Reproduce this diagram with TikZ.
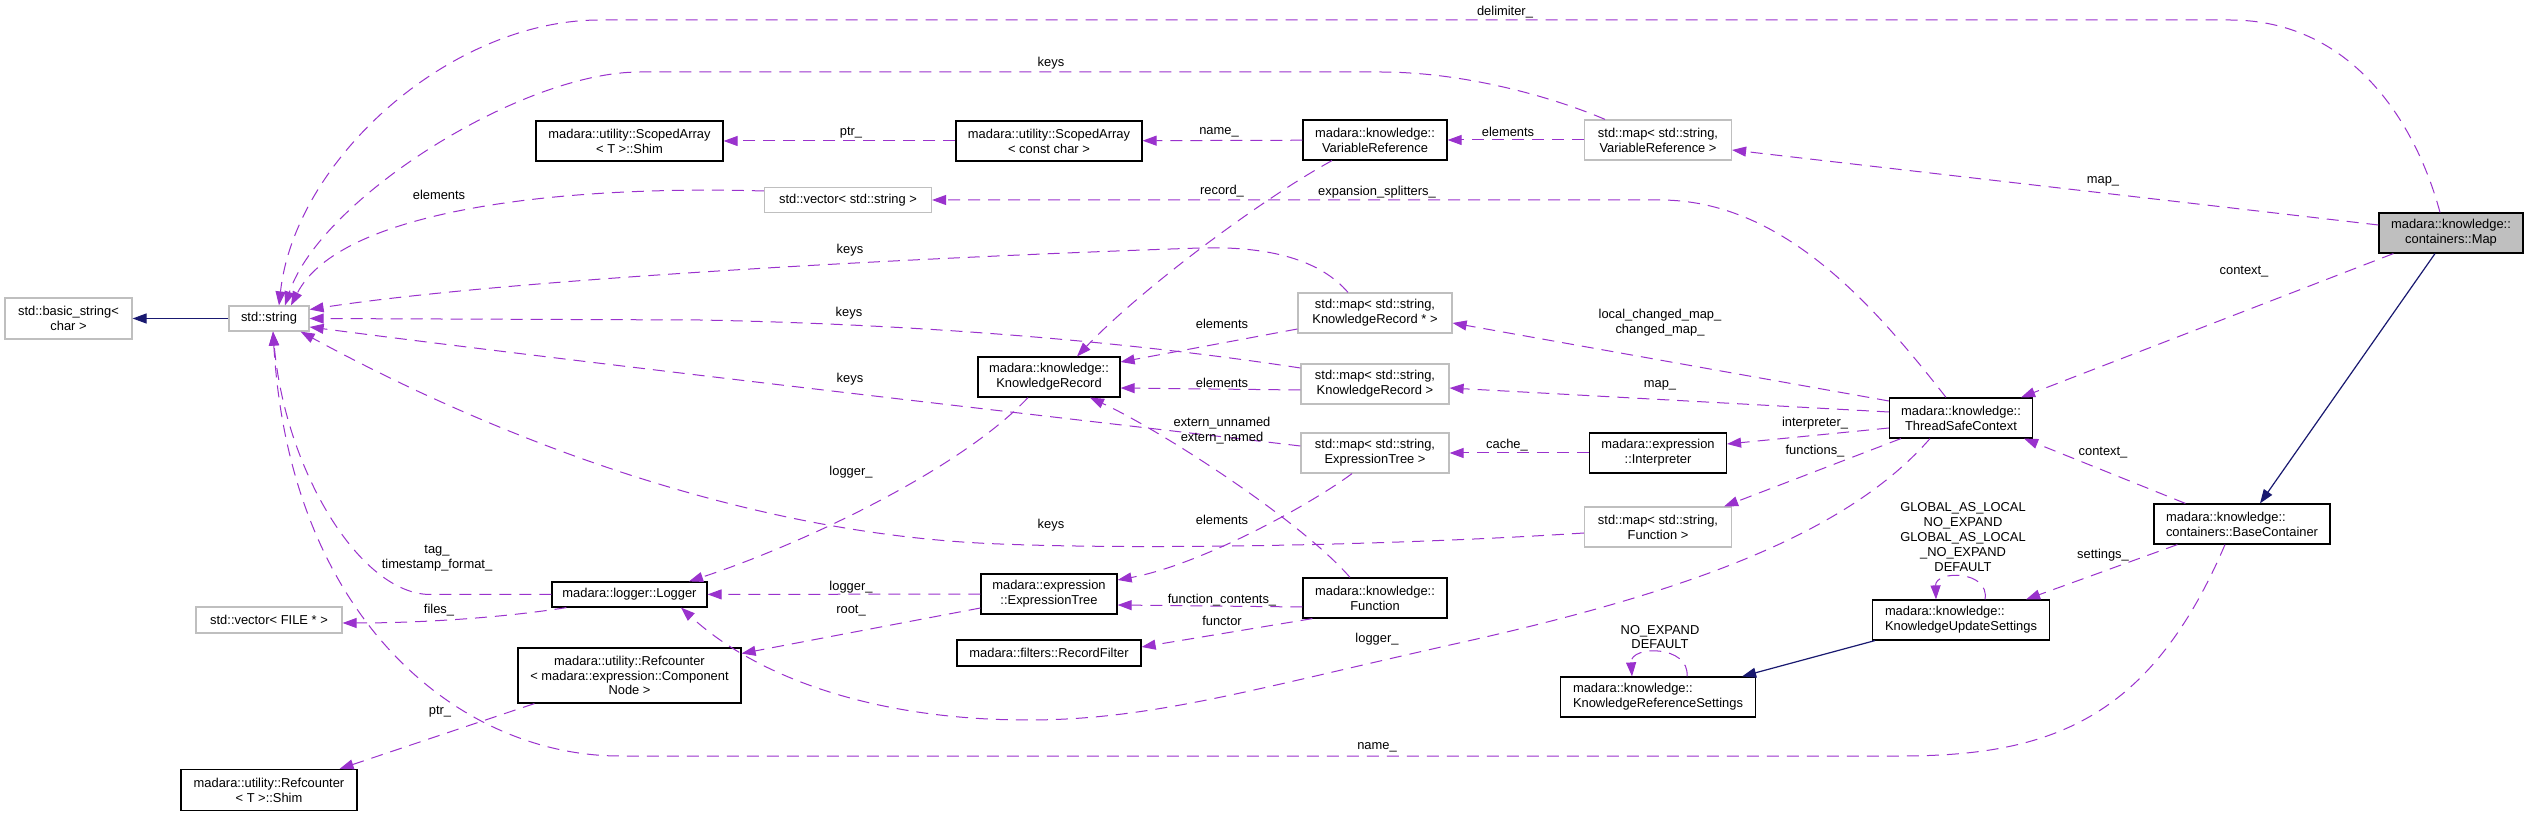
\documentclass[tikz,border=0pt]{standalone}
\usepackage{fontspec}
\setmainfont{Liberation Sans}
\usepackage{tikz}
\usetikzlibrary{arrows.meta,positioning,shapes,calc}
\definecolor{depcol}{RGB}{154,50,205}
\definecolor{inhblue}{RGB}{25,25,112}
\definecolor{extgray}{RGB}{191,191,191}
\definecolor{maingray}{RGB}{191,191,191}
\newcommand{\nodefont}{\fontsize{6.45pt}{7.4pt}\selectfont}

\begin{document}
\begin{tikzpicture}[x=0.5pt, y=-0.5pt,
    cls/.style={draw=black, line width=0.6pt, fill=white, inner sep=1pt, align=center, font=\nodefont},
    ext/.style={cls, draw=extgray},
    lbl/.style={font=\nodefont, align=center, inner sep=0pt},
    dep/.style={draw=depcol, line width=0.5pt, dash pattern=on 6pt off 4pt, -{Triangle[length=7pt,width=5pt]}},
    inh/.style={draw=inhblue, line width=0.6pt, -{Triangle[length=7pt,width=5pt]}}]
        \fill[white] (0,0) rectangle (2528,817);
        \useasboundingbox (0,0) rectangle (2528,817);

        \node[ext, minimum width=63.5pt, minimum height=20.5pt] (basicStr) at (68.5,318.5) {std::basic\_string<\\char >};
        \node[ext, minimum width=40pt, minimum height=12.5pt] (stdStr) at (269,318.5) {std::string};
        \node[cls, minimum width=93.5pt, minimum height=20pt] (shimSA) at (629.5,141) {madara::utility::ScopedArray\\< T >::Shim};
        \node[cls, minimum width=93pt, minimum height=20pt] (scopedArr) at (1049,141) {madara::utility::ScopedArray\\< const char >};
        \node[cls, minimum width=72pt, minimum height=20pt] (varRef) at (1375,140) {madara::knowledge::\\VariableReference};
        \node[ext, minimum width=73.5pt, minimum height=20pt] (mapVarRef) at (1658,140) {std::map< std::string,\\VariableReference >};
        \node[cls, fill=maingray, minimum width=72pt, minimum height=20pt] (kMap) at (2451,233) {madara::knowledge::\\containers::Map};
        \node[ext, minimum width=83.5pt, minimum height=12.5pt] (vecStr) at (848,200) {std::vector< std::string >};
        \node[cls, minimum width=71pt, minimum height=20pt] (kRecord) at (1049,377) {madara::knowledge::\\KnowledgeRecord};
        \node[ext, minimum width=77pt, minimum height=20pt] (mapRecPtr) at (1375,313) {std::map< std::string,\\KnowledgeRecord * >};
        \node[ext, minimum width=74pt, minimum height=20pt] (mapRec) at (1375,384) {std::map< std::string,\\KnowledgeRecord >};
        \node[cls, minimum width=71.5pt, minimum height=20pt] (context) at (1961,418) {madara::knowledge::\\ThreadSafeContext};
        \node[ext, minimum width=74pt, minimum height=20pt] (mapTree) at (1375,453) {std::map< std::string,\\ExpressionTree >};
        \node[cls, minimum width=68.5pt, minimum height=20pt] (interp) at (1658,453) {madara::expression\\::Interpreter};
        \node[ext, minimum width=73.5pt, minimum height=20pt] (mapFunc) at (1658,527) {std::map< std::string,\\Function >};
        \node[cls, minimum width=72pt, minimum height=20pt] (func) at (1375,598) {madara::knowledge::\\Function};
        \node[cls, minimum width=68pt, minimum height=20pt] (exprTree) at (1049,594) {madara::expression\\::ExpressionTree};
        \node[cls, minimum width=92pt, minimum height=13pt] (recFilter) at (1049,653) {madara::filters::RecordFilter};
        \node[cls, minimum width=77.5pt, minimum height=12.5pt] (logger) at (629.5,594.5) {madara::logger::Logger};
        \node[ext, minimum width=73pt, minimum height=13pt] (vecFile) at (269,620) {std::vector< FILE * >};
        \node[cls, minimum width=111.5pt, minimum height=27.5pt] (refNode) at (629.5,675.5) {madara::utility::Refcounter\\< madara::expression::Component\\Node >};
        \node[cls, minimum width=88pt, minimum height=20.5pt] (refShim) at (269,790) {madara::utility::Refcounter\\< T >::Shim};
        \node[cls, align=left, minimum width=97.5pt, minimum height=20pt] (refSettings) at (1658,697) {madara::knowledge::\\KnowledgeReferenceSettings};
        \node[cls, align=left, minimum width=88.5pt, minimum height=20pt] (updSettings) at (1961,620) {madara::knowledge::\\KnowledgeUpdateSettings};
        \node[cls, align=left, minimum width=88pt, minimum height=20pt] (baseCont) at (2242,524) {madara::knowledge::\\containers::BaseContainer};

        \draw[inh] (stdStr) -- (basicStr);
        \draw[inh] ($(kMap.south)+(-16,0)$) -- ($(baseCont.north)+(18,0)$);
        \draw[inh] ($(updSettings.south west)+(3,0)$) -- ($(refSettings.north east)+(-14,0)$);

        \draw[dep] ($(kMap.north)+(-11,0)$) .. controls (2415,120) and (2350,20) .. (2230,20) -- (600,20) .. controls (450,20) and (295,160) .. ($(stdStr.north)+(10,0)$);
        \draw[dep] ($(mapVarRef.north)+(-53,0)$) .. controls (1560,100) and (1470,72) .. (1380,72) -- (640,72) .. controls (520,72) and (320,200) .. ($(stdStr.north)+(16,0)$);
        \draw[dep] (scopedArr) -- (shimSA);
        \draw[dep] (varRef) -- (scopedArr);
        \draw[dep] (mapVarRef) -- (varRef);
        \draw[dep] ($(kMap.west)+(0,-8)$) -- ($(mapVarRef.east)+(0,10)$);
        \draw[dep] ($(vecStr.west)+(0,-9)$) .. controls (560,185) and (340,210) .. ($(stdStr.north)+(22,0)$);
        \draw[dep] ($(context.north)+(-15,0)$) .. controls (1870,300) and (1780,200) .. (1660,200) -- (vecStr.east);
        \draw[dep] ($(varRef.south)+(-43,0)$) .. controls (1260,200) and (1140,290) .. ($(kRecord.north)+(28,0)$);
        \draw[dep] ($(mapRecPtr.north)+(-27,0)$) .. controls (1320,260) and (1270,246) .. (1200,248) .. controls (900,258) and (500,280) .. ($(stdStr.east)+(0,-9)$);
        \draw[dep] ($(mapRecPtr.west)+(0,16)$) -- ($(kRecord.east)+(0,-15)$);
        \draw[dep] ($(mapRec.west)+(0,-16)$) .. controls (1150,345) and (950,325) .. (700,320) -- (stdStr.east);
        \draw[dep] ($(mapRec.west)+(0,6)$) -- ($(kRecord.east)+(0,11)$);
        \draw[dep] ($(context.west)+(0,-17)$) -- ($(mapRecPtr.east)+(0,10)$);
        \draw[dep] ($(context.west)+(0,-6)$) -- ($(mapRec.east)+(0,4)$);
        \draw[dep] ($(mapTree.west)+(0,-7)$) .. controls (1150,428) and (600,365) .. ($(stdStr.east)+(0,8.5)$);
        \draw[dep] ($(func.north)+(-25,0)$) .. controls (1300,520) and (1160,430) .. ($(kRecord.south)+(41,0)$);
        \draw[dep] ($(mapTree.south)+(-23,0)$) .. controls (1310,505) and (1200,565) .. ($(exprTree.east)+(0,-14)$);
        \draw[dep] ($(context.west)+(0,10)$) -- ($(interp.east)+(0,-9)$);
        \draw[dep] (interp) -- (mapTree);
        \draw[dep] ($(context.south west)+(12,0)$) -- ($(mapFunc.north east)+(-8,0)$);
        \draw[dep] ($(mapFunc.west)+(0,6)$) .. controls (1400,545) and (1150,550) .. (1000,544) .. controls (750,535) and (500,440) .. ($(stdStr.south east)+(-9,0)$);
        \draw[dep] ($(kRecord.south)+(-21,0)$) .. controls (960,470) and (800,545) .. ($(logger.north)+(59.5,0)$);
        \draw[dep] (exprTree) -- (logger);
        \draw[dep] ($(exprTree.west)+(0,14)$) -- ($(refNode.east)+(0,-22)$);
        \draw[dep] ($(func.west)+(0,9)$) -- ($(exprTree.east)+(0,11)$);
        \draw[dep] ($(func.south west)+(10,0)$) -- ($(recFilter.east)+(0,-6)$);
        \draw[dep] ($(context.south)+(-31,0)$) .. controls (1850,530) and (1700,590) .. (1450,645) .. controls (1250,690) and (1150,720) .. (1028,720) .. controls (880,720) and (760,680) .. ($(logger.south)+(51.5,0)$);
        \draw[dep] (logger.west) -- (430,594.5) .. controls (360,594) and (285,470) .. ($(stdStr.south)+(4,0)$);
        \draw[dep] ($(logger.south west)+(15,0)$) .. controls (500,618) and (420,623) .. ($(vecFile.east)+(0,3)$);
        \draw[dep] ($(refNode.south west)+(17,0)$) -- ($(refShim.north east)+(-18,0)$);
        \draw[dep] ($(baseCont.south)+(-17,0)$) .. controls (2150,720) and (2050,756) .. (1900,756) -- (620,756) .. controls (460,756) and (290,620) .. ($(stdStr.south)+(4,0)$);
        \draw[dep] ($(baseCont.north west)+(32,0)$) -- ($(context.south east)+(-9,0)$);
        \draw[dep] ($(kMap.south west)+(15,0)$) -- ($(context.north east)+(-12,0)$);
        \draw[dep] ($(baseCont.south west)+(24,0)$) -- ($(updSettings.north east)+(-24,0)$);
        \draw[dep] ($(updSettings.north)+(24,0)$) .. controls (1990,570) and (1935,570) .. ($(updSettings.north)+(-25,0)$);
        \draw[dep] ($(refSettings.north)+(29,0)$) .. controls (1690,645) and (1630,645) .. ($(refSettings.north)+(-26,0)$);

        \node[lbl] (lDelim) at (1505,12) {delimiter\_};
        \node[lbl] (lKeysA) at (1051,63) {keys};
        \node[lbl] (lPtrA) at (851,133) {ptr\_};
        \node[lbl] (lNameA) at (1219,132) {name\_};
        \node[lbl] (lElemA) at (1508,132) {elements};
        \node[lbl] (lMapA) at (2103,181) {map\_};
        \node[lbl] (lElemB) at (439,195) {elements};
        \node[lbl] (lSplit) at (1377,192) {expansion\_splitters\_};
        \node[lbl] (lRecord) at (1222,191) {record\_};
        \node[lbl] (lKeysB) at (850,250) {keys};
        \node[lbl] (lElemC) at (1222,324) {elements};
        \node[lbl] (lKeysC) at (849,313) {keys};
        \node[lbl] (lElemD) at (1222,383) {elements};
        \node[lbl] (lChanged) at (1660,323) {local\_changed\_map\_\\changed\_map\_};
        \node[lbl] (lMapB) at (1660,385) {map\_};
        \node[lbl] (lKeysD) at (850,379) {keys};
        \node[lbl] (lExtern) at (1222,431) {extern\_unnamed\\extern\_named};
        \node[lbl] (lElemE) at (1222,520) {elements};
        \node[lbl] (lInterp) at (1815,423) {interpreter\_};
        \node[lbl] (lCache) at (1507,445) {cache\_};
        \node[lbl] (lFuncs) at (1815,451) {functions\_};
        \node[lbl] (lKeysE) at (1051,525) {keys};
        \node[lbl] (lLogA) at (851,472) {logger\_};
        \node[lbl] (lLogB) at (851,587) {logger\_};
        \node[lbl] (lRoot) at (851,611) {root\_};
        \node[lbl] (lContents) at (1222,600) {function\_contents\_};
        \node[lbl] (lFunctor) at (1222,621) {functor};
        \node[lbl] (lLogC) at (1377,639) {logger\_};
        \node[lbl] (lTag) at (437,558) {tag\_\\timestamp\_format\_};
        \node[lbl] (lFiles) at (439,610) {files\_};
        \node[lbl] (lPtrB) at (440,712) {ptr\_};
        \node[lbl] (lNameB) at (1377,747) {name\_};
        \node[lbl] (lCtxA) at (2103,453) {context\_};
        \node[lbl] (lCtxB) at (2244,272) {context\_};
        \node[lbl] (lSettings) at (2103,555) {settings\_};
        \node[lbl] (lUpdFlags) at (1963,537) {GLOBAL\_AS\_LOCAL\\NO\_EXPAND\\GLOBAL\_AS\_LOCAL\\\_NO\_EXPAND\\DEFAULT};
        \node[lbl] (lRefFlags) at (1660,637) {NO\_EXPAND\\DEFAULT};
    \end{tikzpicture}
\end{document}
